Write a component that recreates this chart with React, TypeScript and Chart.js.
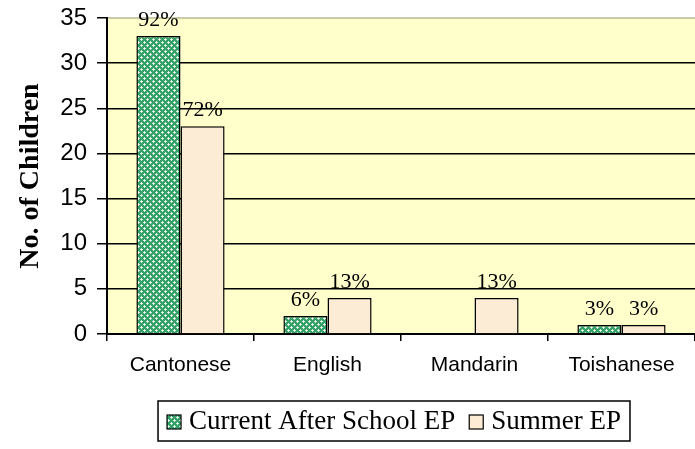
import React, { useEffect, useRef } from "react";
import { Chart, registerables } from "chart.js";

Chart.register(...registerables);

const categories = ["Cantonese", "English", "Mandarin", "Toishanese"];
const seriesNames = ["Current After School EP", "Summer EP"];
const afterSchoolValues = [33, 2, 0, 1];
const summerValues = [23, 4, 4, 1];
const afterSchoolLabels = ["92%", "6%", "", "3%"];
const summerLabels = ["72%", "13%", "13%", "3%"];
const yAxisTitle = "No. of Children";
const yMax = 35;
const yStep = 5;

const BEIGE = "#FCEBD5";
const PLOT_BG = "#FFFFCC";
const SERIF = "'Liberation Serif', 'Times New Roman', serif";
const SANS = "'Liberation Sans', Arial, sans-serif";

function makePattern(): CanvasPattern | string {
  const c = document.createElement("canvas");
  c.width = 6;
  c.height = 6;
  const g = c.getContext("2d");
  if (!g) return "#339966";
  g.fillStyle = "#35A068";
  g.fillRect(0, 0, 6, 6);
  g.fillStyle = "#CDEBD9";
  g.fillRect(0, 0, 1, 1);
  g.fillRect(1, 0, 1, 1);
  g.fillRect(5, 0, 1, 1);
  g.fillRect(0, 1, 1, 1);
  g.fillRect(0, 5, 1, 1);
  g.fillRect(3, 3, 1, 1);
  g.fillRect(2, 3, 1, 1);
  g.fillRect(4, 3, 1, 1);
  g.fillRect(3, 2, 1, 1);
  g.fillRect(3, 4, 1, 1);
  g.fillStyle = "#FFFFFF";
  g.fillRect(0, 0, 1, 1);
  g.fillRect(3, 3, 1, 1);
  const p = g.createPattern(c, "repeat");
  return p || "#339966";
}

export default function App() {
  const ref = useRef<HTMLCanvasElement | null>(null);

  useEffect(() => {
    document.body.style.margin = "0";
    const canvas = ref.current;
    if (!canvas) return;
    const pattern = makePattern();
    const labelSets = [afterSchoolLabels, summerLabels];

    const bgPlugin = {
      id: "plotBg",
      beforeDraw(chart: any) {
        const { ctx, chartArea } = chart;
        ctx.save();
        ctx.fillStyle = PLOT_BG;
        ctx.fillRect(chartArea.left, chartArea.top, chartArea.right - chartArea.left, chartArea.bottom - chartArea.top);
        ctx.strokeStyle = "#B8B890";
        ctx.lineWidth = 1.5;
        ctx.beginPath();
        ctx.moveTo(chartArea.left, chartArea.top);
        ctx.lineTo(chartArea.right, chartArea.top);
        ctx.stroke();
        ctx.restore();
      },
    };

    const labelPlugin = {
      id: "barLabels",
      afterDatasetsDraw(chart: any) {
        const { ctx } = chart;
        ctx.save();
        ctx.font = `22px ${SERIF}`;
        ctx.fillStyle = "#000";
        ctx.textAlign = "center";
        ctx.textBaseline = "alphabetic";
        chart.data.datasets.forEach((_ds: any, di: number) => {
          const meta = chart.getDatasetMeta(di);
          meta.data.forEach((bar: any, i: number) => {
            const txt = labelSets[di][i];
            if (!txt) return;
            ctx.fillText(txt, bar.x, bar.y - 10);
          });
        });
        ctx.restore();
      },
    };

    const titleLegendPlugin = {
      id: "titleLegend",
      afterDraw(chart: any) {
        const { ctx, chartArea } = chart;
        ctx.save();
        ctx.translate(31, (chartArea.top + chartArea.bottom) / 2);
        ctx.rotate(-Math.PI / 2);
        ctx.font = `bold 28px ${SERIF}`;
        ctx.fillStyle = "#000";
        ctx.textAlign = "center";
        ctx.textBaseline = "middle";
        ctx.fillText(yAxisTitle, 0, 0);
        ctx.restore();

        ctx.save();
        ctx.font = `27px ${SERIF}`;
        const box = 14;
        const gapMarker = 8;
        const gapItem = 14;
        const padX = 9;
        const widths = seriesNames.map((s) => ctx.measureText(s).width);
        const total = padX * 2 + widths.reduce((a, w) => a + box + gapMarker + w, 0) + gapItem;
        const cx = 394;
        const top = 401;
        const h = 40;
        const left = cx - total / 2;
        ctx.strokeStyle = "#000";
        ctx.lineWidth = 1.5;
        ctx.strokeRect(left, top, total, h);
        let x = left + padX;
        const midY = top + h / 2;
        const fills = [pattern, BEIGE];
        seriesNames.forEach((s, i) => {
          ctx.fillStyle = fills[i] as any;
          ctx.fillRect(x, midY - box / 2 + 1, box, box);
          ctx.strokeStyle = "#000";
          ctx.lineWidth = 1.2;
          ctx.strokeRect(x, midY - box / 2 + 1, box, box);
          x += box + gapMarker;
          ctx.fillStyle = "#000";
          ctx.textAlign = "left";
          ctx.textBaseline = "middle";
          ctx.fillText(s, x, midY + 1);
          x += widths[i] + gapItem;
        });
        ctx.restore();
      },
    };

    const chart = new Chart(canvas, {
      type: "bar",
      data: {
        labels: categories,
        datasets: [
          {
            label: seriesNames[0],
            data: afterSchoolValues,
            backgroundColor: pattern as any,
            borderColor: "#000",
            borderWidth: 1.5,
            categoryPercentage: 0.6,
            barPercentage: 1,
          },
          {
            label: seriesNames[1],
            data: summerValues,
            backgroundColor: BEIGE,
            borderColor: "#000",
            borderWidth: 1.5,
            categoryPercentage: 0.6,
            barPercentage: 1,
          },
        ],
      },
      options: {
        responsive: false,
        animation: false,
        devicePixelRatio: 1,
        layout: { padding: { top: 18, left: 0, right: 0, bottom: 0 } },
        plugins: {
          legend: { display: false },
          tooltip: { enabled: false },
        },
        scales: {
          x: {
            grid: {
              offset: true,
              drawOnChartArea: false,
              drawTicks: true,
              tickLength: 7,
              color: "#000",
              lineWidth: 1.5,
            },
            border: { display: true, color: "#000", width: 2 },
            ticks: {
              color: "#000",
              padding: 12,
              font: { family: SANS, size: 21 },
              maxRotation: 0,
            },
            afterFit(scale: any) {
              scale.height = 449 - 334;
              scale.paddingLeft = 0;
              scale.paddingRight = 0;
            },
          },
          y: {
            min: 0,
            max: yMax,
            ticks: {
              stepSize: yStep,
              color: "#000",
              padding: 10,
              font: { family: SANS, size: 24 },
            },
            grid: {
              color: (c: any) => (c.tick && c.tick.value === yMax ? "rgba(0,0,0,0)" : "#000"),
              tickColor: "#000",
              lineWidth: 1.5,
              tickLength: 10,
            },
            border: { display: true, color: "#000", width: 2 },
            afterFit(scale: any) {
              scale.width = 107;
              scale.paddingTop = 0;
              scale.paddingBottom = 0;
            },
          },
        },
      },
      plugins: [bgPlugin, labelPlugin, titleLegendPlugin],
    });

    return () => chart.destroy();
  }, []);

  return (
    <div style={{ position: "fixed", left: 0, top: 0, width: 695, height: 449, background: "#fff" }}>
      <canvas ref={ref} width={695} height={449} style={{ display: "block" }} />
    </div>
  );
}
